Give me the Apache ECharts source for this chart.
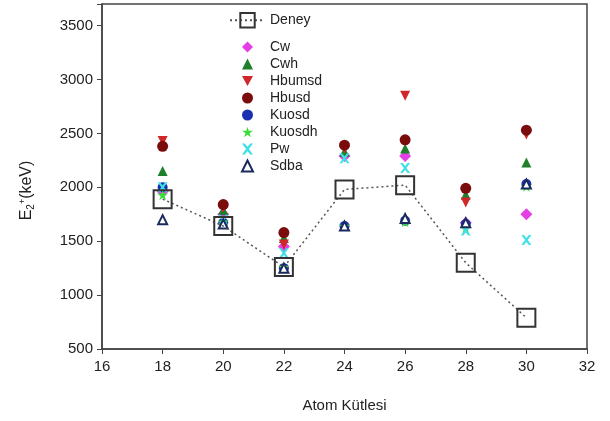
<!DOCTYPE html>
<html>
<head>
<meta charset="utf-8">
<style>
	html, body { margin: 0; padding: 0; background: #fff; }
	#chart { width: 610px; height: 421px; }
</style>
<script src="https://cdn.jsdelivr.net/npm/echarts@6/dist/echarts.min.js"></script>
</head>
<body>
<div id="chart"></div>
<script>
	// atom mass (x) for every column
	const mass = [18, 20, 22, 24, 26, 28, 30]

	// E2+ values (keV)
	const deney = [1890, 1640, 1260, 1980, 2020, 1300, 790]
	const cw = [1960, 1750, 1450, 2290, 2290, 1670, 1750]
	const cwh = [2150, 1790, 1530, 2330, 2360, 1930, 2230]
	const hbumsd = [2430, 1810, 1470, 2360, 2850, 1860, 2490]
	const hbusd = [2380, 1840, 1580, 2390, 2440, 1990, 2530]
	const kuosd = [2000, 1670, 1250, 1640, 1690, 1660, 2030]
	const kuosdh = [1930, 1680, 1260, 1640, 1680, 1620, 2010]
	const pw = [2000, 1700, 1390, 2270, 2180, 1600, 1510]
	const sdba = [1700, 1660, 1250, 1640, 1710, 1670, 2030]

	const xTicks = [16, 18, 20, 22, 24, 26, 28, 30, 32]
	const yTicks = [500, 1000, 1500, 2000, 2500, 3000, 3500]

	const pairs = (vals) => mass.map((m, i) => [m, vals[i]])

	const starPath = 'path://M50,0 L61,35 L98,35 L68,57 L79,91 L50,70 L21,91 L32,57 L2,35 L39,35 Z'
	const crossPath = 'path://M0,0 L25,0 L50,30 L75,0 L100,0 L63,50 L100,100 L75,100 L50,70 L25,100 L0,100 L37,50 Z'
	const downTriPath = 'path://M0,0 L100,0 L50,90 Z'

	const font = 'Liberation Sans, Arial, sans-serif'

	const scatter = (name, data, symbol, color, size, extra) => Object.assign({
		name: name,
		type: 'scatter',
		data: pairs(data),
		symbol: symbol,
		symbolSize: size,
		itemStyle: { color: color, opacity: 1 }
	}, extra || {})

	const option = {
		animation: false,
		backgroundColor: '#fff',
		grid: {
			left: 102,
			right: 23,
			top: 4,
			bottom: 72,
			show: true,
			borderColor: '#444',
			borderWidth: 1.5
		},
		legend: [
			{
				data: ['Deney'],
				orient: 'vertical',
				left: 224,
				top: 7,
				itemWidth: 35,
				itemHeight: 18,
				textStyle: { fontFamily: font, fontSize: 14, color: '#222' }
			},
			{
				data: ['Cw', 'Cwh', 'Hbumsd', 'Hbusd', 'Kuosd', 'Kuosdh', 'Pw', 'Sdba'],
				orient: 'vertical',
				left: 236,
				top: 35,
				itemWidth: 11,
				itemHeight: 11,
				itemGap: 3,
				textStyle: { fontFamily: font, fontSize: 14, color: '#222', padding: [0, 0, 0, 12] }
			}
		],
		xAxis: {
			type: 'value',
			min: 16,
			max: 32,
			interval: 2,
			name: 'Atom Kütlesi',
			nameLocation: 'middle',
			nameGap: 49,
			nameTextStyle: { fontFamily: font, fontSize: 15, color: '#222' },
			axisLine: { lineStyle: { color: '#444', width: 1.5 } },
			axisTick: { inside: false, length: 5, lineStyle: { color: '#444' } },
			axisLabel: { fontFamily: font, fontSize: 15, color: '#222', margin: 10 },
			splitLine: { show: false }
		},
		yAxis: {
			type: 'value',
			min: 500,
			max: 3700,
			interval: 500,
			name: '{a|E}{s|2}{p|+}{a|(keV)}',
			nameLocation: 'middle',
			nameGap: 66,
			nameRotate: 90,
			nameTextStyle: {
				padding: [0, 28, 0, 0],
				rich: {
					a: { fontFamily: font, fontSize: 16, color: '#222' },
					s: { fontFamily: font, fontSize: 10, color: '#222', verticalAlign: 'bottom', padding: [8, 0, 0, 0] },
					p: { fontFamily: font, fontSize: 9, color: '#222', verticalAlign: 'top', padding: [0, 0, 8, 0] }
				}
			},
			axisLine: { lineStyle: { color: '#444', width: 1.5 } },
			axisTick: { inside: false, length: 5, lineStyle: { color: '#444' } },
			axisLabel: {
				fontFamily: font,
				fontSize: 15,
				color: '#222',
				margin: 9,
				formatter: (v) => (yTicks.indexOf(v) >= 0 ? String(v) : '')
			},
			splitLine: { show: false }
		},
		series: [
			{
				name: 'Deney',
				type: 'line',
				data: pairs(deney),
				symbol: 'rect',
				symbolSize: 18,
				lineStyle: { color: '#555', width: 1.5, type: [2, 3] },
				itemStyle: { color: 'rgba(255,255,255,0)', borderColor: '#333', borderWidth: 2 }
			},
			scatter('Cw', cw, 'diamond', '#e43fe4', 12),
			scatter('Cwh', cwh, 'triangle', '#1f7f2a', 10),
			scatter('Hbumsd', hbumsd, downTriPath, '#d0282a', 10),
			scatter('Hbusd', hbusd, 'circle', '#7a0c0c', 11),
			scatter('Kuosd', kuosd, 'circle', '#1a2fb0', 10),
			scatter('Kuosdh', kuosdh, starPath, '#3ddc3d', 11),
			scatter('Pw', pw, crossPath, '#3fe0e6', 10),
			scatter('Sdba', sdba, 'triangle', '#fff', 9, {
				itemStyle: { color: '#fff', borderColor: '#1b2a5c', borderWidth: 2, opacity: 1 }
			})
		]
	}

	const chart = echarts.init(document.getElementById('chart'))
	chart.setOption(option)
	window.onresize = () => {
		chart.resize()
	}
</script>
</body>
</html>
